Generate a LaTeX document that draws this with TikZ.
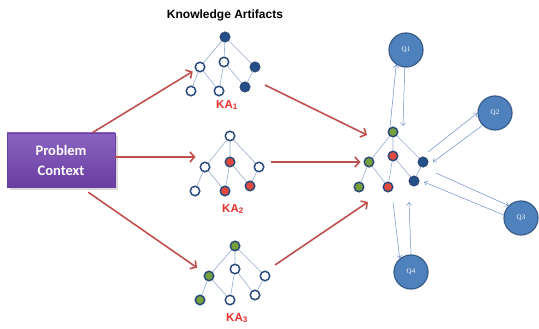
\documentclass[tikz,border=0pt]{standalone}
\usepackage{fontspec}
\setmainfont{Liberation Sans}
\newfontfamily\boxfont{Carlito}
\newfontfamily\qfont{Liberation Serif}
\usetikzlibrary{arrows.meta,shadows}

\definecolor{knline}{HTML}{2C4A7C}
\definecolor{kblue}{HTML}{24508A}
\definecolor{kred}{HTML}{E04A3F}
\definecolor{kgreen}{HTML}{74A03A}
\definecolor{edgeblue}{HTML}{97ADD0}
\definecolor{arrred}{HTML}{C0504D}
\definecolor{kared}{HTML}{E8302A}
\definecolor{qfill}{HTML}{4F81BD}
\definecolor{qborder}{HTML}{385D8A}
\definecolor{qline}{HTML}{6A8CC8}
\definecolor{boxtop}{HTML}{8A63C0}
\definecolor{boxbot}{HTML}{6A3DA2}

\tikzset{
  kn/.style={circle, draw=knline, line width=1.5pt, fill=white, minimum size=9.5pt, inner sep=0pt},
  kb/.style={kn, fill=kblue},
  kr/.style={kn, fill=kred},
  kg/.style={kn, fill=kgreen},
  edge/.style={draw=edgeblue, line width=0.6pt},
  redarrow/.style={draw=arrred, line width=1.6pt, -{Straight Barb[length=4.5pt,width=10pt]}},
  qarrow/.style={draw=qline, line width=0.5pt, -{Straight Barb[length=3pt,width=5pt]}},
  qnode/.style={circle, draw=qborder, line width=1.2pt, fill=qfill, minimum size=34pt, inner sep=0pt, text=white, font=\qfont\fontsize{7}{8}\selectfont},
  kalabel/.style={text=kared, font=\bfseries\fontsize{11.5}{13}\selectfont},
  probbox/.style={rectangle, minimum width=108pt, minimum height=54pt, top color=boxtop, bottom color=boxbot, draw=boxbot, align=center, text=white, drop shadow={opacity=0.3}, font=\boxfont\bfseries\fontsize{14.5}{20}\selectfont}
}

\begin{document}
\begin{tikzpicture}[x=1pt, y=-1pt]
\useasboundingbox (0,0) rectangle (539,329);
% problem context and title
\node[probbox] (pc) at (61,160) {Problem\\Context};
\node[font=\bfseries\fontsize{12}{14}\selectfont] (title) at (225,15) {Knowledge Artifacts};
% KA1
\node[kb] (k1r) at (225,37) {};
\node[kn] (k1a) at (200,67) {};
\node[kn] (k1b) at (224,62) {};
\node[kb] (k1c) at (255,67) {};
\node[kn] (k1d) at (191,91) {};
\node[kn] (k1e) at (219,91) {};
\node[kb] (k1f) at (245,87) {};
\node[kalabel] (k1l) at (227,105) {KA\textsubscript{1}};
% KA2
\node[kn] (k2r) at (230,136) {};
\node[kn] (k2a) at (205,167) {};
\node[kr] (k2b) at (230,162) {};
\node[kn] (k2c) at (259,167) {};
\node[kn] (k2d) at (195,191) {};
\node[kr] (k2e) at (225,191) {};
\node[kr] (k2f) at (250,186) {};
\node[kalabel] (k2l) at (233,209) {KA\textsubscript{2}};
% KA3
\node[kg] (k3r) at (235,246) {};
\node[kg] (k3a) at (209,276) {};
\node[kn] (k3b) at (235,269) {};
\node[kn] (k3c) at (265,276) {};
\node[kg] (k3d) at (200,300) {};
\node[kn] (k3e) at (230,300) {};
\node[kn] (k3f) at (255,295) {};
\node[kalabel] (k3l) at (237,318) {KA\textsubscript{3}};
% merged artifact
\node[kg] (mr) at (393,132) {};
\node[kg] (ma) at (369,162) {};
\node[kr] (mb) at (393,156) {};
\node[kb] (mc) at (423,162) {};
\node[kg] (md) at (359,187) {};
\node[kr] (me) at (388,187) {};
\node[kb] (mf) at (414,181) {};
\foreach \t in {k1,k2,k3,m}
  \draw[edge] (\t r) -- (\t a) (\t r) -- (\t b) (\t r) -- (\t c)
    (\t a) -- (\t d) (\t a) -- (\t e) (\t b) -- (\t e) (\t b) -- (\t f) (\t c) -- (\t f);
% questions
\node[qnode] (q1) at (406,50) {Q1};
\node[qnode] (q2) at (495,113) {Q2};
\node[qnode] (q3) at (521,218) {Q3};
\node[qnode] (q4) at (411,272) {Q4};
% red arrows
\coordinate (k1out) at (265,85);
\coordinate (min1) at (367,135);
\coordinate (k3out) at (275,265);
\coordinate (min3) at (368,202);
\draw[redarrow, shorten >=3pt] ([xshift=-23pt]pc.north east) -- (k1a);
\draw[redarrow, shorten >=4pt] ([yshift=3pt]pc.east) -- ([yshift=3pt]pc.east -| k2a.west);
\draw[redarrow, shorten >=9pt] ([xshift=-27pt,yshift=-5pt]pc.south east) -- (k3a);
\draw[redarrow] (k1out) -- (min1);
\draw[redarrow, shorten >=3pt] ([xshift=6pt,yshift=5pt]k2c.east) -- (ma);
\draw[redarrow] (k3out) -- (min3);
% blue arrows
\coordinate (q1from) at (390,128);
\coordinate (q1to) at (403,126);
\coordinate (q2from) at (428,152);
\coordinate (q2to) at (433,162);
\coordinate (q3from) at (436,173);
\coordinate (q3to) at (424,182);
\coordinate (q4from) at (393,202);
\coordinate (q4to) at (409,202);
\draw[qarrow] (q1from) -- (q1.236);
\draw[qarrow] (q1.266) -- (q1to);
\draw[qarrow] (q2from) -- (q2.west);
\draw[qarrow] (q2.south west) -- (q2to);
\draw[qarrow] (q3from) -- (q3.north west);
\draw[qarrow] (q3.170) -- (q3to);
\draw[qarrow] (q4from) -- (q4.130);
\draw[qarrow] (q4.north) -- (q4to);
\end{tikzpicture}
\end{document}
